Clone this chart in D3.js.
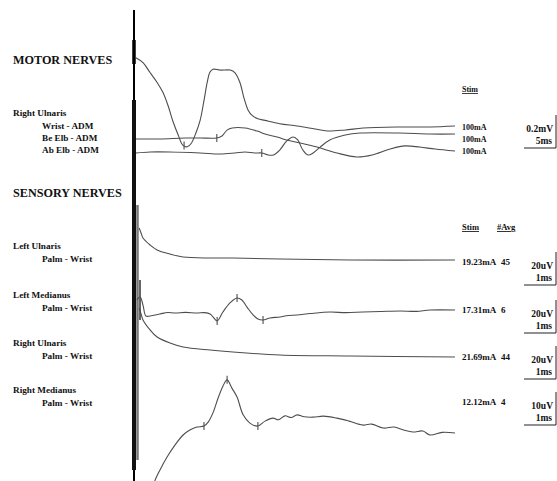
<!DOCTYPE html>
<html>
<head>
<meta charset="utf-8">
<script src="https://cdn.jsdelivr.net/npm/d3@7"></script>
<style>
  body { margin: 0; background: #fff; }
  text { font-family: "Liberation Serif", "DejaVu Serif", serif; font-weight: bold; fill: #111; }
</style>
</head>
<body>
<div id="container"></div>
<script>
/* CONSTANTS AND GLOBALS */
const width = 557, height = 481;

/* DATA  ([ms, mV] for motor, [ms, uV] for sensory) */
const motorNerve = "Right Ulnaris";
const motorSites = ["Wrist - ADM", "Be Elb - ADM", "Ab Elb - ADM"];
const motorStim = ["100mA", "100mA", "100mA"];
const motorGain = { amp: "0.2mV", time: "5ms" };

const wristAdm = [[0.3,0.42],[1.4,0.39],[2.5,0.33],[3.6,0.27],[4.5,0.21],[5.3,0.13],[6.1,0.03],[6.9,-0.05],
  [7.6,-0.11],[8.3,-0.12],[8.9,-0.10],[9.7,-0.03],[10.3,0.04],[10.9,0.16],[11.4,0.27],[11.8,0.33],[12.3,0.35],
  [13.4,0.345],[15.0,0.345],[15.7,0.33],[16.5,0.27],[17.1,0.18],[17.8,0.10],[18.4,0.07],[19.3,0.05],[20.4,0.04],
  [22.7,0.02],[25.4,0.006],[28.2,-0.012],[30.1,-0.024],[32.9,-0.018],[35.7,-0.006],[41.4,0],[46.1,0],[50,0.006]];
const beElbAdm = [[0.3,-0.006],[4.0,-0.006],[7.9,0],[10.3,0],[12.9,0],[13.7,0.012],[14.5,0.048],[15.3,0.061],
  [17.3,0.061],[19.2,0.042],[20.4,0.024],[22.3,0.006],[23.8,-0.012],[25.9,-0.030],[28.5,-0.055],[31.6,-0.091],
  [34.7,-0.115],[37.1,-0.103],[39.9,-0.067],[42.2,-0.048],[44.5,-0.055],[46.9,-0.067],[50,-0.079]];
const abElbAdm = [[0.3,0],[2.5,0.006],[5.6,0.006],[10.3,0],[13.4,-0.006],[15.7,0],[17.3,0.006],[18.8,0],
  [19.9,0],[20.9,-0.012],[21.7,-0.012],[22.7,0.018],[23.8,0.073],[24.8,0.097],[25.5,0.079],[26.3,0.018],
  [27.1,-0.012],[27.9,0],[29.0,0.036],[30.5,0.079],[32.9,0.109],[35.2,0.121],[41.4,0.121],[46.1,0.115],[50,0.115]];
const motorTraces = [wristAdm, beElbAdm, abElbAdm];
const motorMarkers = [[7.8], [12.9], [19.9]];

const sensoryNerves = ["Left Ulnaris", "Left Medianus", "Right Ulnaris", "Right Medianus"];
const sensorySites = ["Palm - Wrist", "Palm - Wrist", "Palm - Wrist", "Palm - Wrist"];
const sensoryStim = ["19.23mA", "17.31mA", "21.69mA", "12.12mA"];
const sensoryAvg = ["45", "6", "44", "4"];
const sensoryAmp = ["20uV", "20uV", "20uV", "10uV"];
const sensoryGain = [20, 20, 20, 10];

const leftUlnaris = [[0.16,19.4],[0.22,16.4],[0.28,13.3],[0.5,9.1],[0.72,6.1],[1.12,3.6],[1.53,1.8],[2.37,1.2],
  [3.08,1.2],[4.55,0.6],[6.73,0],[10,0]];
const leftMedianus = [[0.09,7.9],[0.19,9.7],[0.28,4.8],[0.37,-1.8],[0.5,-1.8],[0.81,-0.6],[1.05,0.3],[1.28,0],
  [1.6,0.4],[1.96,0],[2.2,0.2],[2.37,-0.6],[2.46,-2.4],[2.59,-4.8],[2.77,0.6],[2.99,6.1],[3.21,9.1],[3.36,7.9],
  [3.52,3.6],[3.71,-1.2],[3.86,-3.6],[4.02,-4.2],[4.24,-3.0],[4.55,-2.4],[4.8,-1.5],[5.08,-1.2],[5.5,-0.3],
  [6.11,0.6],[6.6,0.2],[7.13,0.6],[7.7,0.9],[8.29,1.2],[8.8,1.0],[9.22,1.8],[10,1.8]];
const rightUlnaris = [[0.16,29.7],[0.22,26.1],[0.28,22.4],[0.5,16.4],[0.72,12.1],[1.12,8.5],[1.53,6.1],[2.37,4.2],
  [3.08,3.0],[4.55,1.2],[6.73,0.6],[10,0]];
const rightMedianus = [[0.56,-17.9],[0.65,-14.5],[0.81,-11.2],[1.03,-7.3],[1.28,-3.6],[1.53,-0.6],[1.74,0.9],
  [1.96,1.8],[2.18,2.1],[2.31,3.3],[2.46,6.1],[2.62,10.6],[2.77,14.2],[2.9,16.1],[3.05,13.6],[3.21,10.9],
  [3.4,5.5],[3.61,3.0],[3.86,2.1],[4.08,3.6],[4.33,4.5],[4.5,4.0],[4.7,5.2],[4.9,4.7],[5.08,5.5],[5.3,4.9],
  [5.58,4.8],[5.9,5.1],[6.32,4.5],[6.7,3.6],[7.13,2.4],[7.4,2.7],[7.76,1.5],[8.1,1.8],[8.4,0.9],[8.69,0.3],
  [9.0,0.6],[9.22,-0.6],[9.6,0.2],[10,0]];
const sensoryTraces = [leftUlnaris, leftMedianus, rightUlnaris, rightMedianus];
const sensoryMarkers = [[], [2.59, 3.21, 4.02], [], [2.18, 2.9, 3.86]];

/* LAYOUT */
const motorBase = [127, 138, 153];
const sensoryBase = [260, 313, 357, 433];
const divPx = 33;

const svg = d3.select("#container").append("svg")
  .attr("width", width)
  .attr("height", height);

// SCALES
const xMotor = d3.scaleLinear().domain([0, 50]).range([134, 455]);
const xSensory = d3.scaleLinear().domain([0, 10]).range([134, 455]);

const traceColor = "#4d4d4d";

function drawTrace(data, x, y, marks) {
  const line = d3.line()
    .x(d => x(d[0]))
    .y(d => y(d[1]))
    .curve(d3.curveCatmullRom);
  svg.append("path")
    .datum(data)
    .attr("d", line)
    .attr("fill", "none")
    .attr("stroke", traceColor)
    .attr("stroke-width", 1.1);

  const bis = d3.bisector(d => d[0]).left;
  svg.selectAll(null)
    .data(marks)
    .join("line")
    .each(function (t) {
      const i = Math.max(1, bis(data, t));
      const a = data[i - 1], b = data[i];
      const v = a[1] + (b[1] - a[1]) * (t - a[0]) / (b[0] - a[0]);
      d3.select(this)
        .attr("x1", x(t)).attr("x2", x(t))
        .attr("y1", y(v) - 4).attr("y2", y(v) + 4);
    })
    .attr("stroke", traceColor)
    .attr("stroke-width", 1.1);
}

// STIMULUS ARTIFACT at t = 0
const x0 = xMotor(0);
const artifact = [
  { y1: 10, y2: 481, w: 2, c: "#000" },
  { y1: 40, y2: 64, w: 3.5, c: "#000" },
  { y1: 100, y2: 205, w: 4, c: "#111" },
  { y1: 195, y2: 470, w: 4, c: "#111" },
  { y1: 205, y2: 460, w: 2.5, c: "#777", dx: 3.5 },
  { y1: 280, y2: 320, w: 1.5, c: "#333", dx: 6 }
];
svg.selectAll("line.artifact")
  .data(artifact)
  .join("line")
  .attr("class", "artifact")
  .attr("x1", d => x0 + (d.dx || 0)).attr("x2", d => x0 + (d.dx || 0))
  .attr("y1", d => d.y1).attr("y2", d => d.y2)
  .attr("stroke", d => d.c)
  .attr("stroke-width", d => d.w);

// MOTOR TRACES
motorTraces.forEach((tr, i) => {
  const y = d3.scaleLinear().domain([0, 0.2]).range([motorBase[i], motorBase[i] - divPx]);
  drawTrace(tr, xMotor, y, motorMarkers[i]);
});

// SENSORY TRACES
const clip = svg.append("clipPath").attr("id", "clip")
  .append("rect").attr("x", 0).attr("y", 0).attr("width", width).attr("height", height);
sensoryTraces.forEach((tr, i) => {
  const y = d3.scaleLinear().domain([0, sensoryGain[i]]).range([sensoryBase[i], sensoryBase[i] - divPx]);
  drawTrace(tr, xSensory, y, sensoryMarkers[i]);
});

// LEFT LABELS
function txt(x, y, s, size, anchor) {
  return svg.append("text")
    .attr("x", x).attr("y", y)
    .attr("font-size", size)
    .attr("text-anchor", anchor || "start")
    .text(s);
}

txt(13, 64, "MOTOR NERVES", 12.2);
txt(13, 116, motorNerve, 9.2);
motorSites.forEach((s, i) => txt(42, 129 + i * 12, s, 9.2));

txt(13, 197, "SENSORY NERVES", 12.2);
const nerveY = [249, 298, 346, 393];
sensoryNerves.forEach((s, i) => {
  txt(13, nerveY[i], s, 9.2);
  txt(42, nerveY[i] + 13, sensorySites[i], 9.2);
});

// RIGHT LABELS
txt(462, 92, "Stim", 8).style("text-decoration", "underline");
motorStim.forEach((s, i) => txt(462, [130, 142, 154][i], s, 8));

txt(462, 230, "Stim", 8.5).style("text-decoration", "underline");
txt(497, 230, "#Avg", 8.5).style("text-decoration", "underline");
const stimY = [265, 313, 360, 405];
sensoryStim.forEach((s, i) => {
  txt(462, stimY[i], s, 9);
  txt(501, stimY[i], sensoryAvg[i], 9);
});

// SCALE BOXES
function scaleBox(bottom, amp, time) {
  txt(553, bottom - 16, amp, 9.5, "end");
  txt(552, bottom - 4, time, 9.5, "end");
  svg.append("path")
    .attr("d", `M524,${bottom}H556V${bottom - divPx}`)
    .attr("fill", "none")
    .attr("stroke", "#222")
    .attr("stroke-width", 1);
}
scaleBox(148, motorGain.amp, motorGain.time);
const boxBottom = [285, 333, 379, 425];
sensoryAmp.forEach((a, i) => scaleBox(boxBottom[i], a, "1ms"));
</script>
</body>
</html>
